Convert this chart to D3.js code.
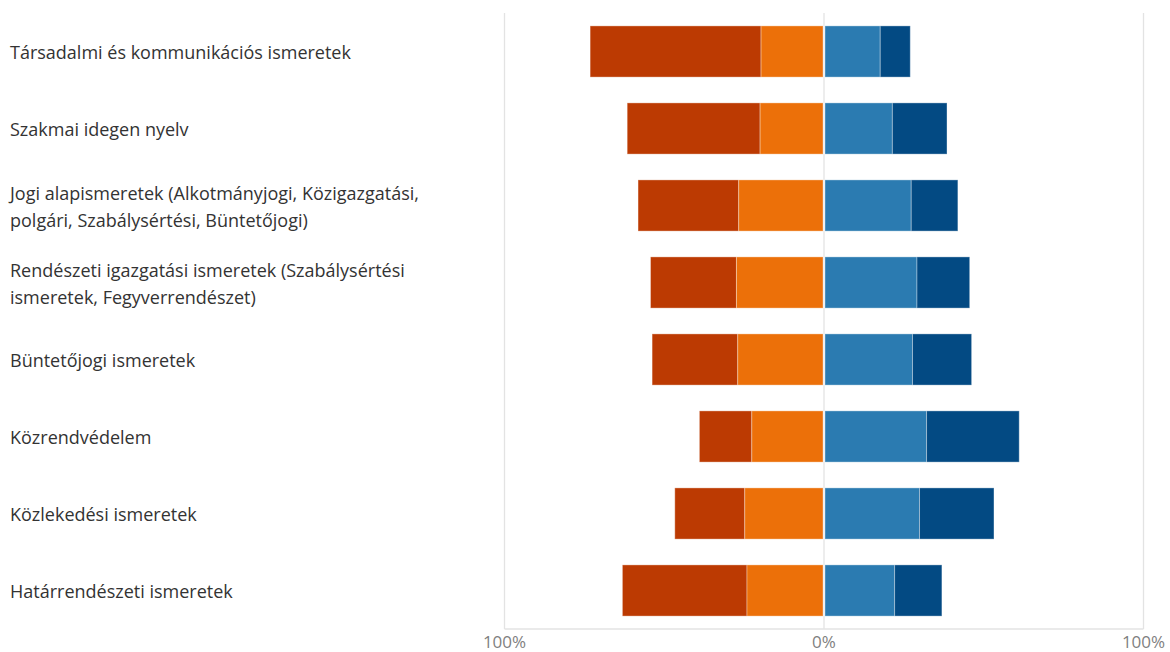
<!DOCTYPE html>
<html>
<head>
<meta charset="utf-8">
<script src="https://cdn.jsdelivr.net/npm/d3@7"></script>
<style>
  html, body { margin: 0; padding: 0; background: #fff; }
  svg { display: block; }
</style>
</head>
<body>
<svg id="chart" width="1170" height="652"></svg>
<script>
const categories = [
  ["Társadalmi és kommunikációs ismeretek"],
  ["Szakmai idegen nyelv"],
  ["Jogi alapismeretek (Alkotmányjogi, Közigazgatási,", "polgári, Szabálysértési, Büntetőjogi)"],
  ["Rendészeti igazgatási ismeretek (Szabálysértési", "ismeretek, Fegyverrendészet)"],
  ["Büntetőjogi ismeretek"],
  ["Közrendvédelem"],
  ["Közlekedési ismeretek"],
  ["Határrendészeti ismeretek"]
];
const stronglyNegative = [53.5, 41.6, 31.5, 26.9, 26.8, 16.4, 21.9, 39.0];
const negative         = [19.7, 20.0, 26.7, 27.4, 27.0, 22.6, 24.8, 24.1];
const positive         = [17.6, 21.4, 27.3, 29.1, 27.7, 32.1, 29.9, 22.1];
const stronglyPositive = [ 9.4, 17.1, 14.6, 16.5, 18.5, 29.0, 23.3, 14.8];
const tickValues = [-100, 0, 100];
const tickLabels = ["100%", "0%", "100%"];
const colors = ["#bc3a02", "#ec7009", "#2b7bb1", "#034a83"];

const svg = d3.select("#chart");
const fontFamily = "'Open Sans', 'Noto Sans', sans-serif";

const x = d3.scaleLinear().domain([-100, 100]).range([504.5, 1143.5]);
const y = d3.scaleBand().domain(d3.range(categories.length)).range([13, 629]).paddingInner(0.335).paddingOuter(0.1675);

// grid
const grid = svg.append("g");
grid.selectAll("line.v").data(tickValues).join("line")
  .attr("x1", d => x(d)).attr("x2", d => x(d))
  .attr("y1", 13).attr("y2", 629)
  .attr("stroke", "#e3e3e3").attr("stroke-width", 1.3);
grid.append("line")
  .attr("x1", x(-100)).attr("x2", x(100))
  .attr("y1", 629).attr("y2", 629)
  .attr("stroke", "#e3e3e3").attr("stroke-width", 1.3);

// segments
const segs = [];
categories.forEach((c, i) => {
  const a = stronglyNegative[i], b = negative[i], p = positive[i], q = stronglyPositive[i];
  segs.push({i, x0: -(a + b), x1: -b, c: colors[0]});
  segs.push({i, x0: -b, x1: 0, c: colors[1]});
  segs.push({i, x0: 0, x1: p, c: colors[2]});
  segs.push({i, x0: p, x1: p + q, c: colors[3]});
});
const gap = 1;
svg.append("g").selectAll("rect").data(segs).join("rect")
  .attr("x", d => x(d.x0) + (d.x0 === 0 ? gap : 0))
  .attr("width", d => x(d.x1) - x(d.x0) - (d.x1 === 0 || d.x0 === 0 ? gap : 0))
  .attr("y", d => y(d.i))
  .attr("height", y.bandwidth())
  .attr("fill", d => d.c)
  .attr("stroke", "#ffffff").attr("stroke-opacity", 0.35).attr("stroke-width", 1);

// category labels
const lab = svg.append("g");
categories.forEach((lines, i) => {
  const cy = y(i) + y.bandwidth() / 2 + 1.5;
  const lh = 27;
  const t = lab.append("text")
    .attr("x", 10)
    .attr("font-family", fontFamily)
    .attr("font-size", 18)
    .attr("fill", "#333333");
  lines.forEach((ln, k) => {
    t.append("tspan").attr("x", 10)
      .attr("y", cy + (k - (lines.length - 1) / 2) * lh)
      .attr("dy", "0.35em")
      .text(ln);
  });
});

// x axis labels
svg.append("g").selectAll("text").data(tickValues).join("text")
  .attr("x", d => x(d))
  .attr("y", 642)
  .attr("dy", "0.35em")
  .attr("text-anchor", "middle")
  .attr("font-family", fontFamily)
  .attr("font-size", 17)
  .attr("fill", "#7f7f7f")
  .text((d, i) => tickLabels[i]);
</script>
</body>
</html>
